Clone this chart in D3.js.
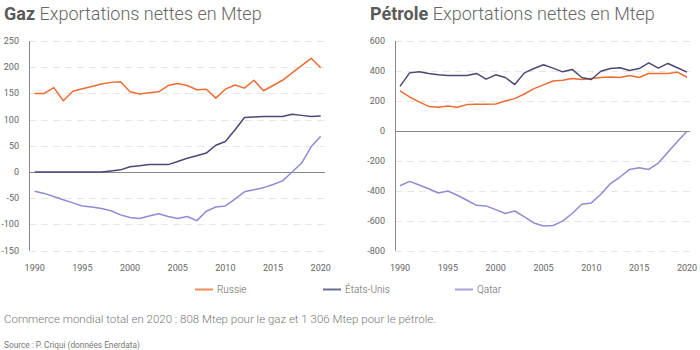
<!DOCTYPE html>
<html><head><meta charset="utf-8">
<script src="https://cdn.jsdelivr.net/npm/d3@7"></script>
<style>
body{margin:0;background:#fff;}
svg{display:block;font-family:Roboto,"Noto Sans",sans-serif;}
</style></head>
<body><svg id="c" width="700" height="350"></svg>
<script>
const years = d3.range(1990, 2021);
const seriesNames = ["Russie", "États-Unis", "Qatar"];
const colors = ["#ec6d33", "#4b4878", "#8f8bd6"];

const gazRussie = [150,150,161,136,154,159,163,168,171,172,153,149,151,153,165,169,165,157,158,141,158,166,160,175,155,165,175,189,203,217,199];
const gazEtatsUnis = [0,0,0,0,0,0,0,0,2,4,10,12,14,14,14,20,26,31,36,51,58,80,104,105,106,106,106,110,108,106,107];
const gazQatar = [-37,-41,-47,-53,-59,-65,-67,-70,-74,-82,-87,-89,-84,-80,-85,-89,-85,-93,-75,-67,-65,-52,-38,-34,-30,-24,-17,0,17,48,68];

const petroleRussie = [266,226,193,163,157,166,157,175,177,177,179,199,215,246,282,307,333,338,349,343,349,356,360,356,369,356,383,383,383,392,358];
const petroleEtatsUnis = [297,387,394,383,374,369,369,369,383,345,374,356,309,387,416,441,419,394,410,356,343,398,416,421,403,416,454,419,450,421,392];
const petroleQatar = [-367,-338,-362,-387,-416,-402,-431,-464,-498,-502,-527,-553,-536,-576,-616,-636,-633,-604,-553,-491,-482,-424,-353,-309,-258,-247,-258,-216,-143,-72,-3];

const gazTicks = [-150,-100,-50,0,50,100,150,200,250];
const petroleTicks = [-800,-600,-400,-200,0,200,400,600];
const xTicks = [1990,1995,2000,2005,2010,2015,2020];

const svg = d3.select("#c");

function panel(opt){
  const x = d3.scaleLinear().domain([1990,2020]).range(opt.xr);
  const y = d3.scaleLinear().domain(opt.yd).range([250.5, 41]);
  const g = svg.append("g");
  const t = g.append("text").attr("x", opt.tx).attr("y", 20).attr("font-size", 18).attr("fill", "#666");
  t.append("tspan").attr("font-weight", 700).attr("fill","#5a5a5a").text(opt.bold);
  t.append("tspan").attr("font-weight", 300).text(" Exportations nettes en Mtep");
  g.selectAll(".grid").data(opt.ticks.filter(v=>v!==0)).join("line")
    .attr("x1", opt.ax).attr("x2", opt.gx2)
    .attr("y1", d=>Math.round(y(d))+0.5).attr("y2", d=>Math.round(y(d))+0.5)
    .attr("stroke", "#e6e6e6").attr("stroke-dasharray", "7,5");
  g.selectAll(".yl").data(opt.ticks).join("text")
    .attr("x", opt.ax-10).attr("y", d=>y(d)+3).attr("text-anchor","end")
    .attr("font-size", 9).attr("fill","#666").text(d=>d);
  g.selectAll(".xl").data(xTicks).join("text")
    .attr("x", d=>x(d)).attr("y", 271).attr("text-anchor","middle")
    .attr("font-size", 9).attr("fill","#666").text(d=>d);
  g.append("line").attr("x1", opt.ax+0.5).attr("x2", opt.ax+0.5)
    .attr("y1", y(opt.yd[1])).attr("y2", y(opt.yd[0])).attr("stroke","#888");
  g.append("line").attr("x1", opt.ax).attr("x2", opt.gx2)
    .attr("y1", Math.round(y(0))+0.5).attr("y2", Math.round(y(0))+0.5).attr("stroke","#888");
  const line = d3.line().x((d,i)=>x(years[i])).y(d=>y(d));
  opt.series.forEach((s,i)=>{
    g.append("path").datum(s).attr("d", line).attr("fill","none")
      .attr("stroke", colors[i]).attr("stroke-width", 1.5).attr("stroke-linejoin","round");
  });
}

panel({xr:[34.7,320.7], yd:[-150,250], ticks:gazTicks, ax:29, gx2:325, tx:4, bold:"Gaz",
  series:[gazRussie, gazEtatsUnis, gazQatar]});
panel({xr:[400,687], yd:[-800,600], ticks:petroleTicks, ax:395, gx2:690, tx:370, bold:"Pétrole",
  series:[petroleRussie, petroleEtatsUnis, petroleQatar]});

const legX = [195, 323, 455];
const lg = svg.append("g");
seriesNames.forEach((n,i)=>{
  lg.append("line").attr("x1", legX[i]).attr("x2", legX[i]+18).attr("y1", 289.5).attr("y2", 289.5)
    .attr("stroke", colors[i]).attr("stroke-width", 2).attr("opacity", 0.8);
  lg.append("text").attr("x", legX[i]+22).attr("y", 293).attr("font-size", 10)
    .attr("font-weight", 300).attr("fill","#666").text(n);
});

svg.append("text").attr("x", 4).attr("y", 323).attr("font-size", 11.5).attr("font-weight", 300)
  .attr("fill","#777").text("Commerce mondial total en 2020 : 808 Mtep pour le gaz et 1 306 Mtep pour le pétrole.");
svg.append("text").attr("x", 4).attr("y", 348).attr("font-size", 8.3).attr("font-weight", 400)
  .attr("fill","#777").text("Source : P. Criqui (données Enerdata)");
</script></body></html>
